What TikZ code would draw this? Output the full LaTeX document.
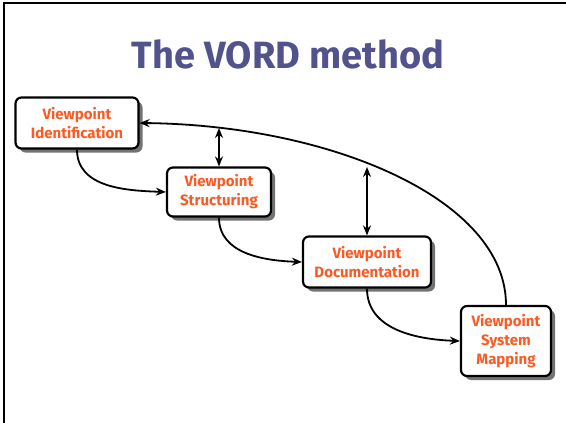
\documentclass[tikz,border=0pt]{standalone}
\usepackage{fontspec}
\setmainfont{Fira Sans}
\usetikzlibrary{arrows.meta,shadows}
\definecolor{titleblue}{RGB}{82,82,140}
\definecolor{vporange}{RGB}{250,90,35}
\tikzset{
  stage/.style={draw,line width=2.2pt,rounded corners=6pt,fill=white,
    drop shadow={shadow xshift=4pt,shadow yshift=-4pt,fill=black!55,opacity=1},
    align=center,text=vporange,inner sep=2pt,
    font=\fontsize{15}{19}\selectfont\bfseries},
  flow/.style={line width=1.8pt,-{Stealth[length=10pt,width=8pt]}},
  both/.style={line width=1.8pt,{Stealth[length=10pt,width=8pt]}-{Stealth[length=10pt,width=8pt]}},
}
\begin{document}
\begin{tikzpicture}[x=1pt,y=-1pt]
    \useasboundingbox (0,0) rectangle (566,423);
    \draw [line width=2pt] (4,423) -- (4,3) -- (566,3);
    \node [text=titleblue,font=\fontsize{38}{44}\selectfont\bfseries] (title) at (288,54) {The VORD method};
    % the four stages
    \node [stage,minimum width=123pt,minimum height=51pt] (ident) at (77,123) {Viewpoint\\Identification};
    \node [stage,minimum width=104pt,minimum height=49pt] (struct) at (219,192) {Viewpoint\\Structuring};
    \node [stage,minimum width=128pt,minimum height=51pt] (doc) at (367,262) {Viewpoint\\Documentation};
    \node [stage,minimum width=90pt,minimum height=70pt] (sysmap) at (506,341) {Viewpoint\\System\\Mapping};
    % flow between stages
    \draw [flow] (ident.south) to[out=-90,in=178] (struct.west);
    \draw [flow] (struct.south) to[out=-90,in=178] (doc.west);
    \draw [flow] (doc.south) to[out=-90,in=178] (sysmap.west);
    \draw [flow] (sysmap.north) .. controls +(0,-106) and (330,125) .. (ident.east);
    % feedback to the long curve
    \coordinate (fb1) at (219,128);
    \coordinate (fb2) at (367,167);
    \draw [both] (fb1) -- (fb1 |- struct.north);
    \draw [both] (fb2) -- (fb2 |- doc.north);
\end{tikzpicture}
\end{document}
